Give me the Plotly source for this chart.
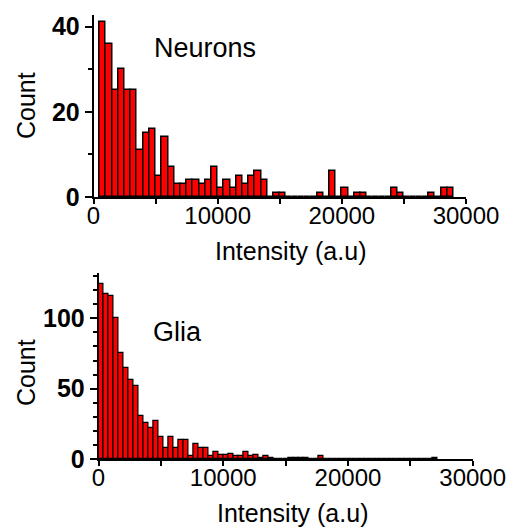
import plotly.graph_objects as go

# ---- data ----
neuron_bin_width = 500
neuron_bin_start = [500 * i for i in range(1, 58)]
neuron_counts = [41, 36, 25, 30, 25, 25, 11, 15, 16, 5, 14, 7, 3, 3, 4, 4, 3, 4, 7, 2,
                 4, 2, 5, 3, 5, 6, 4, 0, 1, 1, 0, 0, 0, 0, 0, 1, 0, 6, 0, 2,
                 0, 1, 1, 0, 0, 0, 0, 2, 1, 0, 0, 0, 0, 1, 0, 2, 2]

glia_bin_width = 400
glia_bin_start = [400 * k for k in range(0, 68)]
glia_counts = [124, 117, 116, 100, 75, 65, 56, 52, 31, 26, 22, 27, 16, 8, 16, 8, 14, 14, 2, 11,
               8, 8, 2, 5, 3, 3, 4, 2, 2, 5, 2, 3, 1, 2, 1, 0, 0, 0, 1, 1,
               1, 1, 0, 0, 2, 0, 0, 0, 0, 0, 0, 0, 0, 0, 0, 0, 0, 0, 0, 0,
               0, 0, 0, 0, 0, 0, 0, 1]

x_ticks = [0, 10000, 20000, 30000]
x_minor = [5000, 15000, 25000]
neuron_y_ticks = [0, 20, 40]
neuron_y_minor = [10, 30]
glia_y_ticks = [0, 50, 100]
glia_y_minor = [10, 20, 30, 40, 60, 70, 80, 90, 110, 120, 130]

FONT = "Arial, Liberation Sans, sans-serif"
OFF = 8  # page body margin
W, H = 514 - OFF, 527 - OFF

def px(x):
    return (x - OFF) / W

def py(y):
    return 1 - (y - OFF) / H

fig = go.Figure()
fig.add_trace(go.Bar(x=neuron_bin_start, y=neuron_counts, width=neuron_bin_width, offset=0,
                     marker=dict(color="#ff0000", line=dict(color="black", width=1.5)),
                     xaxis="x", yaxis="y", showlegend=False))
fig.add_trace(go.Bar(x=glia_bin_start, y=glia_counts, width=glia_bin_width, offset=0,
                     marker=dict(color="#ff0000", line=dict(color="black", width=1.2)),
                     xaxis="x2", yaxis="y2", showlegend=False))

def xax(domain, anchor):
    return dict(domain=domain, anchor=anchor, range=[0, 30000], showgrid=False, zeroline=False,
                automargin=False,
                showline=True, linecolor="black", linewidth=1.5,
                tickmode="array", tickvals=x_ticks, ticktext=[str(v) for v in x_ticks],
                ticks="outside", ticklen=5, tickwidth=1.5, tickcolor="black",
                ticklabelstandoff=-9,
                minor=dict(tickvals=x_minor, ticks="outside", ticklen=5, tickwidth=1.5, tickcolor="black"),
                tickfont=dict(family=FONT, size=24, color="black"))

def yax(domain, anchor, rng, tv, mv):
    return dict(domain=domain, anchor=anchor, range=rng, showgrid=False, zeroline=False,
                automargin=False,
                showline=True, linecolor="black", linewidth=1.5,
                tickmode="array", tickvals=tv, ticktext=[str(v) for v in tv],
                ticks="outside", ticklen=7, tickwidth=1.5, tickcolor="black",
                minor=dict(tickvals=mv, ticks="outside", ticklen=4, tickwidth=1.5, tickcolor="black"),
                tickfont=dict(family=FONT, size=25, color="black", weight="bold"))

fig.update_layout(
    width=W, height=H, margin=dict(l=0, r=0, t=0, b=0, autoexpand=False),
    paper_bgcolor="white", plot_bgcolor="white", bargap=0,
    xaxis=xax([px(93.5), px(466)], "y"),
    yaxis=yax([py(197), py(15)], "x", [0, 42.7], neuron_y_ticks, neuron_y_minor),
    xaxis2=xax([px(98.5), px(472.7)], "y2"),
    yaxis2=yax([py(459.3), py(273)], "x2", [0, 132], glia_y_ticks, glia_y_minor),
)

ann_font = dict(family=FONT, size=25, color="black")
fig.add_annotation(text="Neurons", x=9000, y=35, xref="x", yref="y", showarrow=False,
                   xanchor="center", yanchor="middle",
                   font=dict(family=FONT, size=27, color="black"))
fig.add_annotation(text="Glia", x=6370, y=90, xref="x2", yref="y2", showarrow=False,
                   xanchor="center", yanchor="middle",
                   font=dict(family=FONT, size=27, color="black"))
for yy in (106, 373):
    fig.add_annotation(text="Count", x=px(26), y=py(yy), xref="paper", yref="paper",
                       xanchor="center", yanchor="middle",
                       textangle=-90, showarrow=False, font=ann_font)
fig.add_annotation(text="Intensity (a.u)", x=px(290), y=py(251), xref="paper", yref="paper",
                   xanchor="center", yanchor="middle", showarrow=False, font=ann_font)
fig.add_annotation(text="Intensity (a.u)", x=px(292), y=py(513), xref="paper", yref="paper",
                   xanchor="center", yanchor="middle", showarrow=False, font=ann_font)

fig.write_html("out.html")
